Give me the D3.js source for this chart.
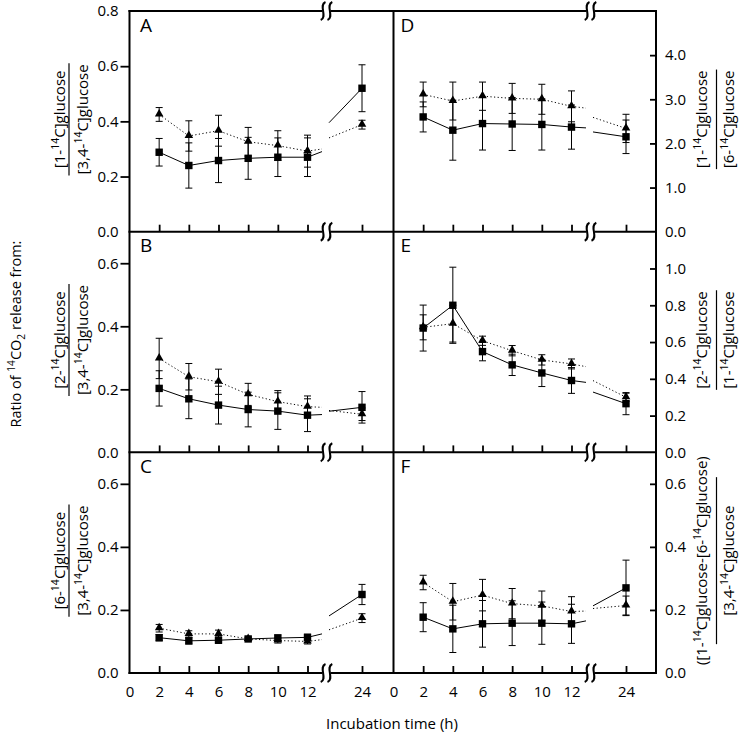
<!DOCTYPE html>
<html>
<head>
<meta charset="utf-8">
<script src="https://cdn.jsdelivr.net/npm/d3@7"></script>
<style>
  body { margin: 0; background: #fff; }
  text { font-family: "Open Sans", sans-serif; }
</style>
</head>
<body>
<svg id="chart" width="740" height="734"></svg>
<script>
// incubation times (h), the last one sits beyond the axis break
const times = [2, 4, 6, 8, 10, 12, 24];
const xTickValues = [0, 2, 4, 6, 8, 10, 12, 24];

// squares = solid line, triangles = dotted line
const sqA = [0.288, 0.240, 0.258, 0.266, 0.270, 0.270, 0.520];
const sqAErr = [0.050, 0.082, 0.080, 0.076, 0.070, 0.070, 0.085];
const triA = [0.425, 0.347, 0.366, 0.326, 0.312, 0.292, 0.388];
const triAErr = [0.025, 0.055, 0.056, 0.052, 0.054, 0.058, 0.016];

const sqB = [0.203, 0.170, 0.150, 0.136, 0.131, 0.118, 0.143];
const sqBErr = [0.056, 0.063, 0.060, 0.055, 0.058, 0.052, 0.050];
const triB = [0.298, 0.240, 0.224, 0.184, 0.161, 0.145, 0.121];
const triBErr = [0.064, 0.042, 0.040, 0.035, 0.035, 0.034, 0.020];

const sqC = [0.112, 0.102, 0.104, 0.108, 0.111, 0.113, 0.249];
const sqCErr = [0.010, 0.010, 0.010, 0.006, 0.010, 0.010, 0.032];
const triC = [0.142, 0.124, 0.124, 0.108, 0.103, 0.100, 0.174];
const triCErr = [0.012, 0.010, 0.012, 0.005, 0.008, 0.008, 0.014];

const sqD = [2.60, 2.30, 2.45, 2.44, 2.43, 2.37, 2.15];
const sqDErr = [0.34, 0.68, 0.60, 0.60, 0.58, 0.50, 0.38];
const triD = [3.11, 2.96, 3.07, 3.02, 3.00, 2.84, 2.34];
const triDErr = [0.28, 0.43, 0.32, 0.34, 0.34, 0.35, 0.32];

const sqE = [0.676, 0.800, 0.548, 0.476, 0.432, 0.391, 0.265];
const sqEErr = [0.125, 0.207, 0.050, 0.058, 0.074, 0.070, 0.060];
const triE = [0.680, 0.700, 0.607, 0.553, 0.503, 0.481, 0.300];
const triEErr = [0.068, 0.100, 0.025, 0.028, 0.028, 0.027, 0.022];

const sqF = [0.177, 0.140, 0.156, 0.158, 0.158, 0.156, 0.270];
const sqFErr = [0.046, 0.075, 0.074, 0.071, 0.067, 0.062, 0.088];
const triF = [0.287, 0.226, 0.247, 0.220, 0.213, 0.195, 0.214];
const triFErr = [0.023, 0.058, 0.050, 0.048, 0.047, 0.047, 0.030];

const yTicksA = [0, 0.2, 0.4, 0.6, 0.8];
const yTicksBC = [0, 0.2, 0.4, 0.6];
const yTicksD = [0, 1, 2, 3, 4];
const yTicksE = [0, 0.2, 0.4, 0.6, 0.8, 1.0];

const panels = [
    {letter: 'A', col: 0, row: 0, max: 0.8, ticks: yTicksA, sq: sqA, sqErr: sqAErr, tri: triA, triErr: triAErr,
        num: '[1-^{14}C]glucose', den: '[3,4-^{14}C]glucose'},
    {letter: 'B', col: 0, row: 1, max: 0.7, ticks: yTicksBC, sq: sqB, sqErr: sqBErr, tri: triB, triErr: triBErr,
        num: '[2-^{14}C]glucose', den: '[3,4-^{14}C]glucose'},
    {letter: 'C', col: 0, row: 2, max: 0.7, ticks: yTicksBC, sq: sqC, sqErr: sqCErr, tri: triC, triErr: triCErr,
        num: '[6-^{14}C]glucose', den: '[3,4-^{14}C]glucose'},
    {letter: 'D', col: 1, row: 0, max: 5, ticks: yTicksD, sq: sqD, sqErr: sqDErr, tri: triD, triErr: triDErr,
        num: '[1-^{14}C]glucose', den: '[6-^{14}C]glucose'},
    {letter: 'E', col: 1, row: 1, max: 1.2, ticks: yTicksE, sq: sqE, sqErr: sqEErr, tri: triE, triErr: triEErr,
        num: '[2-^{14}C]glucose', den: '[1-^{14}C]glucose'},
    {letter: 'F', col: 1, row: 2, max: 0.7, ticks: yTicksBC, sq: sqF, sqErr: sqFErr, tri: triF, triErr: triFErr,
        num: '([1-^{14}C]glucose-[6-^{14}C]glucose)', den: '[3,4-^{14}C]glucose', maxLine: 167}
];

// layout
const colLeft = [129.5, 393.5];
const colRight = [393.5, 656];
const rowTop = [11, 231.7, 452.3];
const rowH = 220.7;
const bottomY = rowTop[2] + rowH;
const fracPos = [{num: 65, line: 69, den: 88}, {num: 707, line: 716.5, den: 734}];

const svg = d3.select('#chart');
svg.append('rect').attr('width', 740).attr('height', 734).attr('fill', '#fff');

function xScaleFor(col) {
    let x0 = colLeft[col];
    return d3.scaleLinear().domain([0, 12, 24]).range([x0, x0 + 178, x0 + 232.5]);
}
function breakFor(col) {
    return colLeft[col] + 197;
}

// text with ^{sup} and _{sub}
function richText(text, str, size) {
    let parts = str.split(/(\^\{[^}]*\}|_\{[^}]*\})/).filter(s => s.length);
    let shift = 0;
    parts.forEach(p => {
        let t = text.append('tspan');
        if (p.startsWith('^{')) {
            t.attr('font-size', size * 0.7).attr('dy', -size * 0.4 - shift).text(p.slice(2, -1));
            shift = -size * 0.4;
        } else if (p.startsWith('_{')) {
            t.attr('font-size', size * 0.7).attr('dy', size * 0.3 - shift).text(p.slice(2, -1));
            shift = size * 0.3;
        } else {
            t.attr('font-size', size).attr('dy', -shift).text(p);
            shift = 0;
        }
    });
    return text;
}

function breakMark(g, bx, y) {
    g.append('rect').attr('x', bx - 4).attr('y', y - 2).attr('width', 8).attr('height', 4).attr('fill', '#fff');
    [-3.4, 3.4].forEach(dx => {
        let cx = bx + dx;
        g.append('path')
            .attr('d', `M${cx + 2.4},${y - 9} C${cx - 5},${y - 6} ${cx + 5},${y + 6} ${cx - 2.4},${y + 9}`)
            .attr('fill', 'none').attr('stroke', '#000').attr('stroke-width', 2);
    });
}

const frame = svg.append('g');
const marks = svg.append('g');

panels.forEach(p => {
    let x = xScaleFor(p.col);
    let bx = breakFor(p.col);
    let top = rowTop[p.row];
    let y = d3.scaleLinear().domain([0, p.max]).range([top + rowH, top]);
    let g = marks.append('g');

    // x axis (ticks pointing up into the panel)
    let xAxis = d3.axisBottom(x).tickValues(xTickValues).tickSizeInner(-7).tickSizeOuter(0).tickPadding(13.5)
        .tickFormat(p.row === 2 ? d3.format('d') : '');
    let xg = frame.append('g').attr('transform', `translate(0,${top + rowH})`).call(xAxis);
    xg.select('.domain').remove();
    xg.selectAll('.tick line').attr('stroke-width', 1.8).filter(d => d === 0).remove();
    xg.selectAll('text').attr('font-size', 15).attr('font-family', '"Open Sans", sans-serif').attr('fill', '#000');

    // y axis: outward ticks on the left, inward on the right
    let yAxis = p.col === 0
        ? d3.axisLeft(y).tickValues(p.ticks).tickSize(9).tickPadding(2)
        : d3.axisRight(y).tickValues(p.ticks).tickSize(-6).tickPadding(9);
    yAxis.tickFormat(d3.format('.1f'));
    let yg = frame.append('g').attr('transform', `translate(${p.col === 0 ? colLeft[0] : colRight[1]},0)`).call(yAxis);
    yg.select('.domain').remove();
    yg.selectAll('.tick line').attr('stroke-width', 1.8).filter(d => d === 0 || d >= p.max - 1e-9).remove();
    yg.selectAll('text').attr('font-size', 15).attr('font-family', '"Open Sans", sans-serif').attr('fill', '#000');

    // error bars
    [[p.sq, p.sqErr], [p.tri, p.triErr]].forEach(([vals, errs]) => {
        let eb = g.append('g').attr('stroke', '#000').attr('stroke-width', 1);
        times.forEach((t, i) => {
            let cx = x(t), y1 = y(vals[i] - errs[i]), y2 = y(vals[i] + errs[i]);
            eb.append('line').attr('x1', cx).attr('x2', cx).attr('y1', y1).attr('y2', y2);
            eb.append('line').attr('x1', cx - 3.5).attr('x2', cx + 3.5).attr('y1', y1).attr('y2', y1);
            eb.append('line').attr('x1', cx - 3.5).attr('x2', cx + 3.5).attr('y1', y2).attr('y2', y2);
        });
    });

    // connecting lines, interrupted at the break
    let line = d3.line().x(d => d[0]).y(d => y(d[1]));
    let pxUnit = (x(12) - x(0)) / 12;
    [[p.sq, null], [p.tri, '1.2,2.4']].forEach(([vals, dash]) => {
        let n = vals.length;
        let v12 = vals[n - 2], v24 = vals[n - 1];
        let stubEnd = bx - 4.5, postStart = bx + 2.5;
        let stubVal = v12 + (v24 - v12) * (stubEnd - x(12)) / (12 * pxUnit);
        let pieces = [
            times.slice(0, n - 1).map((t, i) => [x(t), vals[i]]),
            [[x(12), v12], [stubEnd, stubVal]],
            [[postStart, (v12 + v24) / 2], [x(24), v24]]
        ];
        pieces.forEach(pc => {
            g.append('path').attr('d', line(pc)).attr('fill', 'none').attr('stroke', '#000')
                .attr('stroke-width', 1).attr('stroke-dasharray', dash);
        });
    });

    // markers
    g.selectAll('.sq').data(p.sq).enter().append('rect')
        .attr('x', (d, i) => x(times[i]) - 3.7).attr('y', d => y(d) - 3.7)
        .attr('width', 7.4).attr('height', 7.4).attr('fill', '#000');
    let tri = d3.symbol(d3.symbolTriangle).size(32);
    g.selectAll('.tri').data(p.tri).enter().append('path')
        .attr('d', tri).attr('transform', (d, i) => `translate(${x(times[i])},${y(d) - 0.5})`).attr('fill', '#000');

    // panel letter
    svg.append('text').attr('x', colLeft[p.col] + (p.col === 0 ? 10.5 : 7)).attr('y', top + 20.5)
        .attr('font-size', 19).text(p.letter);

    // fraction label on the side
    let fp = fracPos[p.col];
    let cy = top + rowH / 2 - 2;
    let numT = richText(svg.append('text').attr('text-anchor', 'middle')
        .attr('transform', `translate(${fp.num},${cy}) rotate(-90)`), p.num, 15);
    let denT = richText(svg.append('text').attr('text-anchor', 'middle')
        .attr('transform', `translate(${fp.den},${cy}) rotate(-90)`), p.den, 15);
    let len = Math.max(numT.node().getComputedTextLength(), denT.node().getComputedTextLength()) + 2;
    if (p.maxLine) len = p.maxLine;
    svg.append('line').attr('x1', fp.line).attr('x2', fp.line).attr('y1', cy - len / 2).attr('y2', cy + len / 2)
        .attr('stroke', '#000').attr('stroke-width', 1.2);
});

// frame: horizontal borders with break marks, vertical borders
let hLines = [rowTop[0], rowTop[1], rowTop[2], bottomY];
hLines.forEach(hy => {
    frame.append('line').attr('x1', colLeft[0] - 1).attr('x2', colRight[1] + 1).attr('y1', hy).attr('y2', hy)
        .attr('stroke', '#000').attr('stroke-width', 2);
});
[colLeft[0], colRight[0], colRight[1]].forEach(vx => {
    frame.append('line').attr('x1', vx).attr('x2', vx).attr('y1', rowTop[0] - 1).attr('y2', bottomY + 1)
        .attr('stroke', '#000').attr('stroke-width', 2);
});
[0, 1].forEach(col => hLines.forEach(hy => breakMark(svg, breakFor(col), hy)));

// axis titles
richText(svg.append('text').attr('text-anchor', 'middle').attr('transform', 'translate(21,334) rotate(-90)'),
    'Ratio of ^{14}CO_{2} release from:', 14.5);
svg.append('text').attr('x', 392).attr('y', 729).attr('text-anchor', 'middle').attr('font-size', 15)
    .text('Incubation time (h)');
</script>
</body>
</html>
